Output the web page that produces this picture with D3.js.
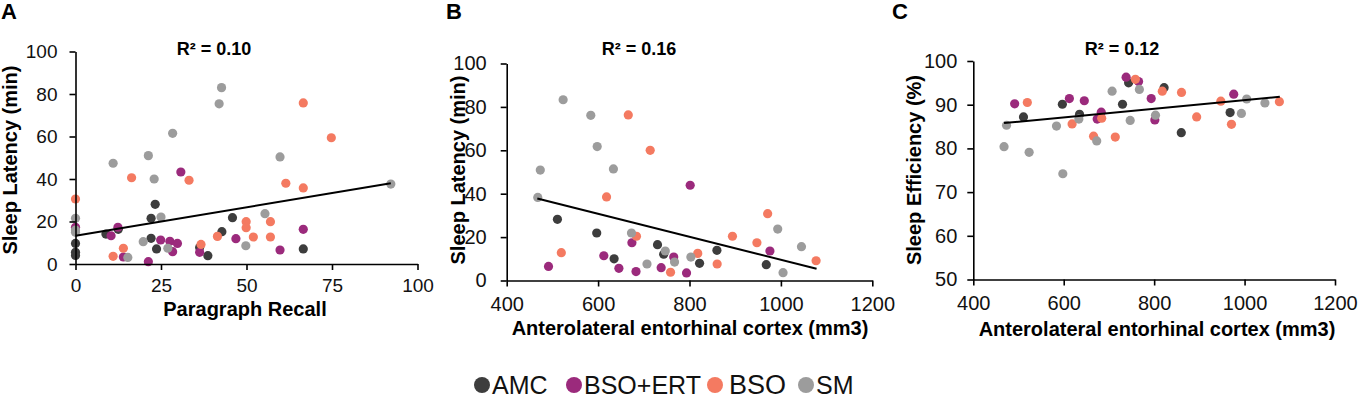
<!DOCTYPE html>
<html>
<head>
<meta charset="utf-8">
<script src="https://cdn.jsdelivr.net/npm/d3@7"></script>
<style>
  body { margin: 0; background: #fff; }
  svg { display: block; font-family: 'Liberation Sans', Arial, sans-serif; }
  .axis path, .axis line { stroke: #000; stroke-width: 1.6px; }
  .axis text { fill: #111; }
</style>
</head>
<body>
<div id="chart"></div>
<script>
// groups and their colours
let groups = ['AMC', 'BSO+ERT', 'BSO', 'SM']
let groupColors = ['#3d3d3d', '#9b2a7c', '#f47a61', '#9c9c9c']

// Panel A: paragraph recall vs sleep latency
let aRecallAMC = [0, 0, 0, 8.9, 12.5, 22.1, 22.1, 23.3, 23.7, 36.3, 38.7, 42.8, 45.9, 66.6]
let aLatencyAMC = [9.7, 5.5, 4.0, 14.1, 16.3, 21.5, 12.1, 28.1, 7.1, 7.8, 3.9, 15.2, 21.8, 7.1]
let aRecallBSOERT = [0, 10.4, 12.4, 14, 21.3, 24.9, 27.6, 28.4, 29.8, 30.8, 36.3, 46.9, 59.8, 66.6]
let aLatencyBSOERT = [17.3, 13.3, 17.3, 3.3, 1.1, 11.3, 10.7, 5.8, 9.7, 43.3, 5.5, 11.9, 6.6, 16.3]
let aRecallBSO = [0, 11, 14, 16.4, 33.2, 36.7, 41.5, 49.9, 49.9, 52, 57, 57, 61.5, 66.6, 66.6, 74.8]
let aLatencyBSO = [30.6, 3.6, 7.4, 40.6, 39.4, 9.2, 13, 19.9, 17.1, 12.7, 19.9, 12.7, 38, 35.8, 75.8, 59.4]
let aRecallSM = [0, 0, 0, 11, 15.3, 19.8, 21.3, 23, 25, 27, 28.4, 42, 42.7, 49.8, 55.4, 59.8, 92.2]
let aLatencySM = [21.5, 16, 14.9, 47.4, 3.1, 10.5, 51, 40, 22.1, 7.4, 61.5, 75.4, 83, 8.6, 23.7, 50.4, 37.6]

// Panels B and C: anterolateral entorhinal cortex volume (mm3)
let volAMC = [511, 597, 635, 730, 743.5, 822, 860, 968]
let volBSOERT = [491.5, 612.5, 645.5, 674, 683, 738, 765.5, 793.5, 801.5, 976]
let volBSO = [519.5, 618.5, 666, 684, 714, 758.5, 818, 860.5, 894, 947.5, 971, 1077]
let volSM = [468, 473.5, 523.5, 584, 598, 633.5, 673, 707, 747, 767.3, 803, 993, 1004.7, 1045]

// Panel B: sleep latency (min)
let bLatencyAMC = [28.2, 21.9, 10.0, 16.5, 12.1, 7.9, 13.9, 7.3]
let bLatencyBSOERT = [6.5, 11.4, 5.6, 17.4, 4.1, 5.9, 10.8, 3.5, 43.9, 13.6]
let bLatencyBSO = [12.8, 38.5, 76.3, 20.4, 60, 3.8, 12.5, 7.6, 20.4, 17.4, 30.8, 9.1]
let bLatencySM = [38.3, 50.9, 83.3, 76.1, 61.7, 51.4, 21.9, 7.6, 13.6, 8.5, 10.8, 23.7, 3.6, 15.6]

// Panel C: sleep efficiency (%)
let cEffAMC = [87.2, 90.1, 87.8, 90.1, 95.0, 93.9, 83.6, 88.2]
let cEffBSOERT = [90.2, 91.4, 90.9, 86.7, 88.3, 96.3, 95.3, 91.4, 86.5, 92.4]
let cEffBSO = [90.5, 85.6, 82.8, 86.9, 82.6, 95.8, 93.1, 92.8, 87.2, 90.8, 85.5, 90.7]
let cEffSM = [80.4, 85.3, 79.1, 85.1, 74.2, 86.7, 81.7, 93.1, 86.4, 93.5, 87.6, 88.0, 91.3, 90.4]

// linear trend lines (end points)
let trendA = [[0, 13.3], [92.2, 38.0]]
let trendB = [[467, 37.8], [1078, 5.4]]
let trendC = [[468, 85.8], [1078, 91.8]]

let r2Labels = ['R² = 0.10', 'R² = 0.16', 'R² = 0.12']

// tick values
let recallTicks = [0, 25, 50, 75, 100]
let latencyTicks = [0, 20, 40, 60, 80, 100]
let volumeTicks = [400, 600, 800, 1000, 1200]
let effTicks = [50, 60, 70, 80, 90, 100]

function points(xs, ys, group) {
  return xs.map(function(x, i) { return {x: x, y: ys[i], group: group} })
}

let color = d3.scaleOrdinal().domain(groups).range(groupColors)

let svg = d3.select('#chart')
  .append('svg')
  .attr('width', 1358)
  .attr('height', 399)
  .style('background-color', '#FFFFFF')

function drawPanel(p) {
  let x = d3.scaleLinear().domain(p.xDomain).range(p.xRange)
  let y = d3.scaleLinear().domain(p.yDomain).range(p.yRange)
  let g = svg.append('g')

  // dots
  g.selectAll('.dot')
    .data(p.data)
    .enter().append('circle')
    .attr('class', 'dot')
    .attr('cx', function(d) { return x(d.x) })
    .attr('cy', function(d) { return y(d.y) })
    .attr('r', 4.6)
    .style('fill', function(d) { return color(d.group) })

  // trend line
  g.append('path')
    .datum(p.trend)
    .attr('d', d3.line().x(function(d) { return x(d[0]) }).y(function(d) { return y(d[1]) }))
    .style('fill', 'none')
    .style('stroke', '#000')
    .style('stroke-width', 2)

  // axes
  g.append('g')
    .attr('class', 'axis')
    .attr('transform', 'translate(0,' + p.yRange[0] + ')')
    .call(d3.axisBottom(x).tickValues(p.xTicks).tickFormat(d3.format('d'))
      .tickSize(6).tickSizeOuter(0).tickPadding(p.xPad))
    .attr('font-size', p.tickFont).attr('font-family', null)

  g.append('g')
    .attr('class', 'axis')
    .attr('transform', 'translate(' + p.xRange[0] + ',0)')
    .call(d3.axisLeft(y).tickValues(p.yTicks).tickFormat(d3.format('d'))
      .tickSize(6).tickSizeOuter(0).tickPadding(p.yPad))
    .attr('font-size', p.tickFont).attr('font-family', null)

  // panel letter
  svg.append('text')
    .attr('x', p.letterX).attr('y', 19)
    .attr('font-size', 22).attr('font-weight', 'bold')
    .text(p.letter)

  // R squared
  svg.append('text')
    .attr('x', p.r2X).attr('y', 55)
    .attr('text-anchor', 'middle')
    .attr('font-size', 18).attr('font-weight', 'bold')
    .text(p.r2)

  // x title
  svg.append('text')
    .attr('x', p.xTitleX).attr('y', p.xTitleY)
    .attr('text-anchor', 'middle')
    .attr('font-size', 20).attr('font-weight', 'bold')
    .text(p.xTitle)

  // y title
  svg.append('text')
    .attr('transform', 'translate(' + p.yTitleX + ',' + p.yTitleY + ') rotate(-90)')
    .attr('text-anchor', 'middle')
    .attr('font-size', 20).attr('font-weight', 'bold')
    .text(p.yTitle)
}

drawPanel({
  letter: 'A', letterX: 1,
  data: [].concat(points(aRecallAMC, aLatencyAMC, 'AMC'), points(aRecallBSOERT, aLatencyBSOERT, 'BSO+ERT'),
    points(aRecallBSO, aLatencyBSO, 'BSO'), points(aRecallSM, aLatencySM, 'SM')),
  trend: trendA, r2: r2Labels[0], r2X: 214,
  xDomain: [0, 100], xRange: [75.5, 417.5], xTicks: recallTicks,
  yDomain: [0, 100], yRange: [264, 51.5], yTicks: latencyTicks,
  tickFont: 19, xPad: 9, yPad: 12,
  xTitle: 'Paragraph Recall', xTitleX: 245, xTitleY: 316,
  yTitle: 'Sleep Latency (min)', yTitleX: 17, yTitleY: 160
})

drawPanel({
  letter: 'B', letterX: 446,
  data: [].concat(points(volAMC, bLatencyAMC, 'AMC'), points(volBSOERT, bLatencyBSOERT, 'BSO+ERT'),
    points(volBSO, bLatencyBSO, 'BSO'), points(volSM, bLatencySM, 'SM')),
  trend: trendB, r2: r2Labels[1], r2X: 639,
  xDomain: [400, 1200], xRange: [506.7, 872.3], xTicks: volumeTicks,
  yDomain: [0, 100], yRange: [280.5, 63.5], yTicks: latencyTicks,
  tickFont: 20, xPad: 10, yPad: 14,
  xTitle: 'Anterolateral entorhinal cortex (mm3)', xTitleX: 690, xTitleY: 335,
  yTitle: 'Sleep Latency (min)', yTitleX: 465, yTitleY: 170
})

drawPanel({
  letter: 'C', letterX: 892,
  data: [].concat(points(volAMC, cEffAMC, 'AMC'), points(volBSOERT, cEffBSOERT, 'BSO+ERT'),
    points(volBSO, cEffBSO, 'BSO'), points(volSM, cEffSM, 'SM')),
  trend: trendC, r2: r2Labels[2], r2X: 1122,
  xDomain: [400, 1200], xRange: [973.3, 1335], xTicks: volumeTicks,
  yDomain: [50, 100], yRange: [279.5, 61], yTicks: effTicks,
  tickFont: 20, xPad: 10, yPad: 10,
  xTitle: 'Anterolateral entorhinal cortex (mm3)', xTitleX: 1157, xTitleY: 336,
  yTitle: 'Sleep Efficiency (%)', yTitleX: 921, yTitleY: 170
})

// legend
let legendX = [482, 574, 715, 806]
let legendSize = [25, 25, 27, 25]
let legend = svg.selectAll('.legend')
  .data(groups)
  .enter().append('g')
  .attr('class', 'legend')
  .attr('transform', function(d, i) { return 'translate(' + legendX[i] + ',385)' })

legend.append('circle')
  .attr('r', 8)
  .style('fill', function(d) { return color(d) })

legend.append('text')
  .attr('x', function(d, i) { return i == 2 ? 14 : 10 })
  .attr('y', 0)
  .attr('dy', '0.35em')
  .attr('font-size', function(d, i) { return legendSize[i] })
  .attr('fill', '#111')
  .text(function(d) { return d })
</script>
</body>
</html>
